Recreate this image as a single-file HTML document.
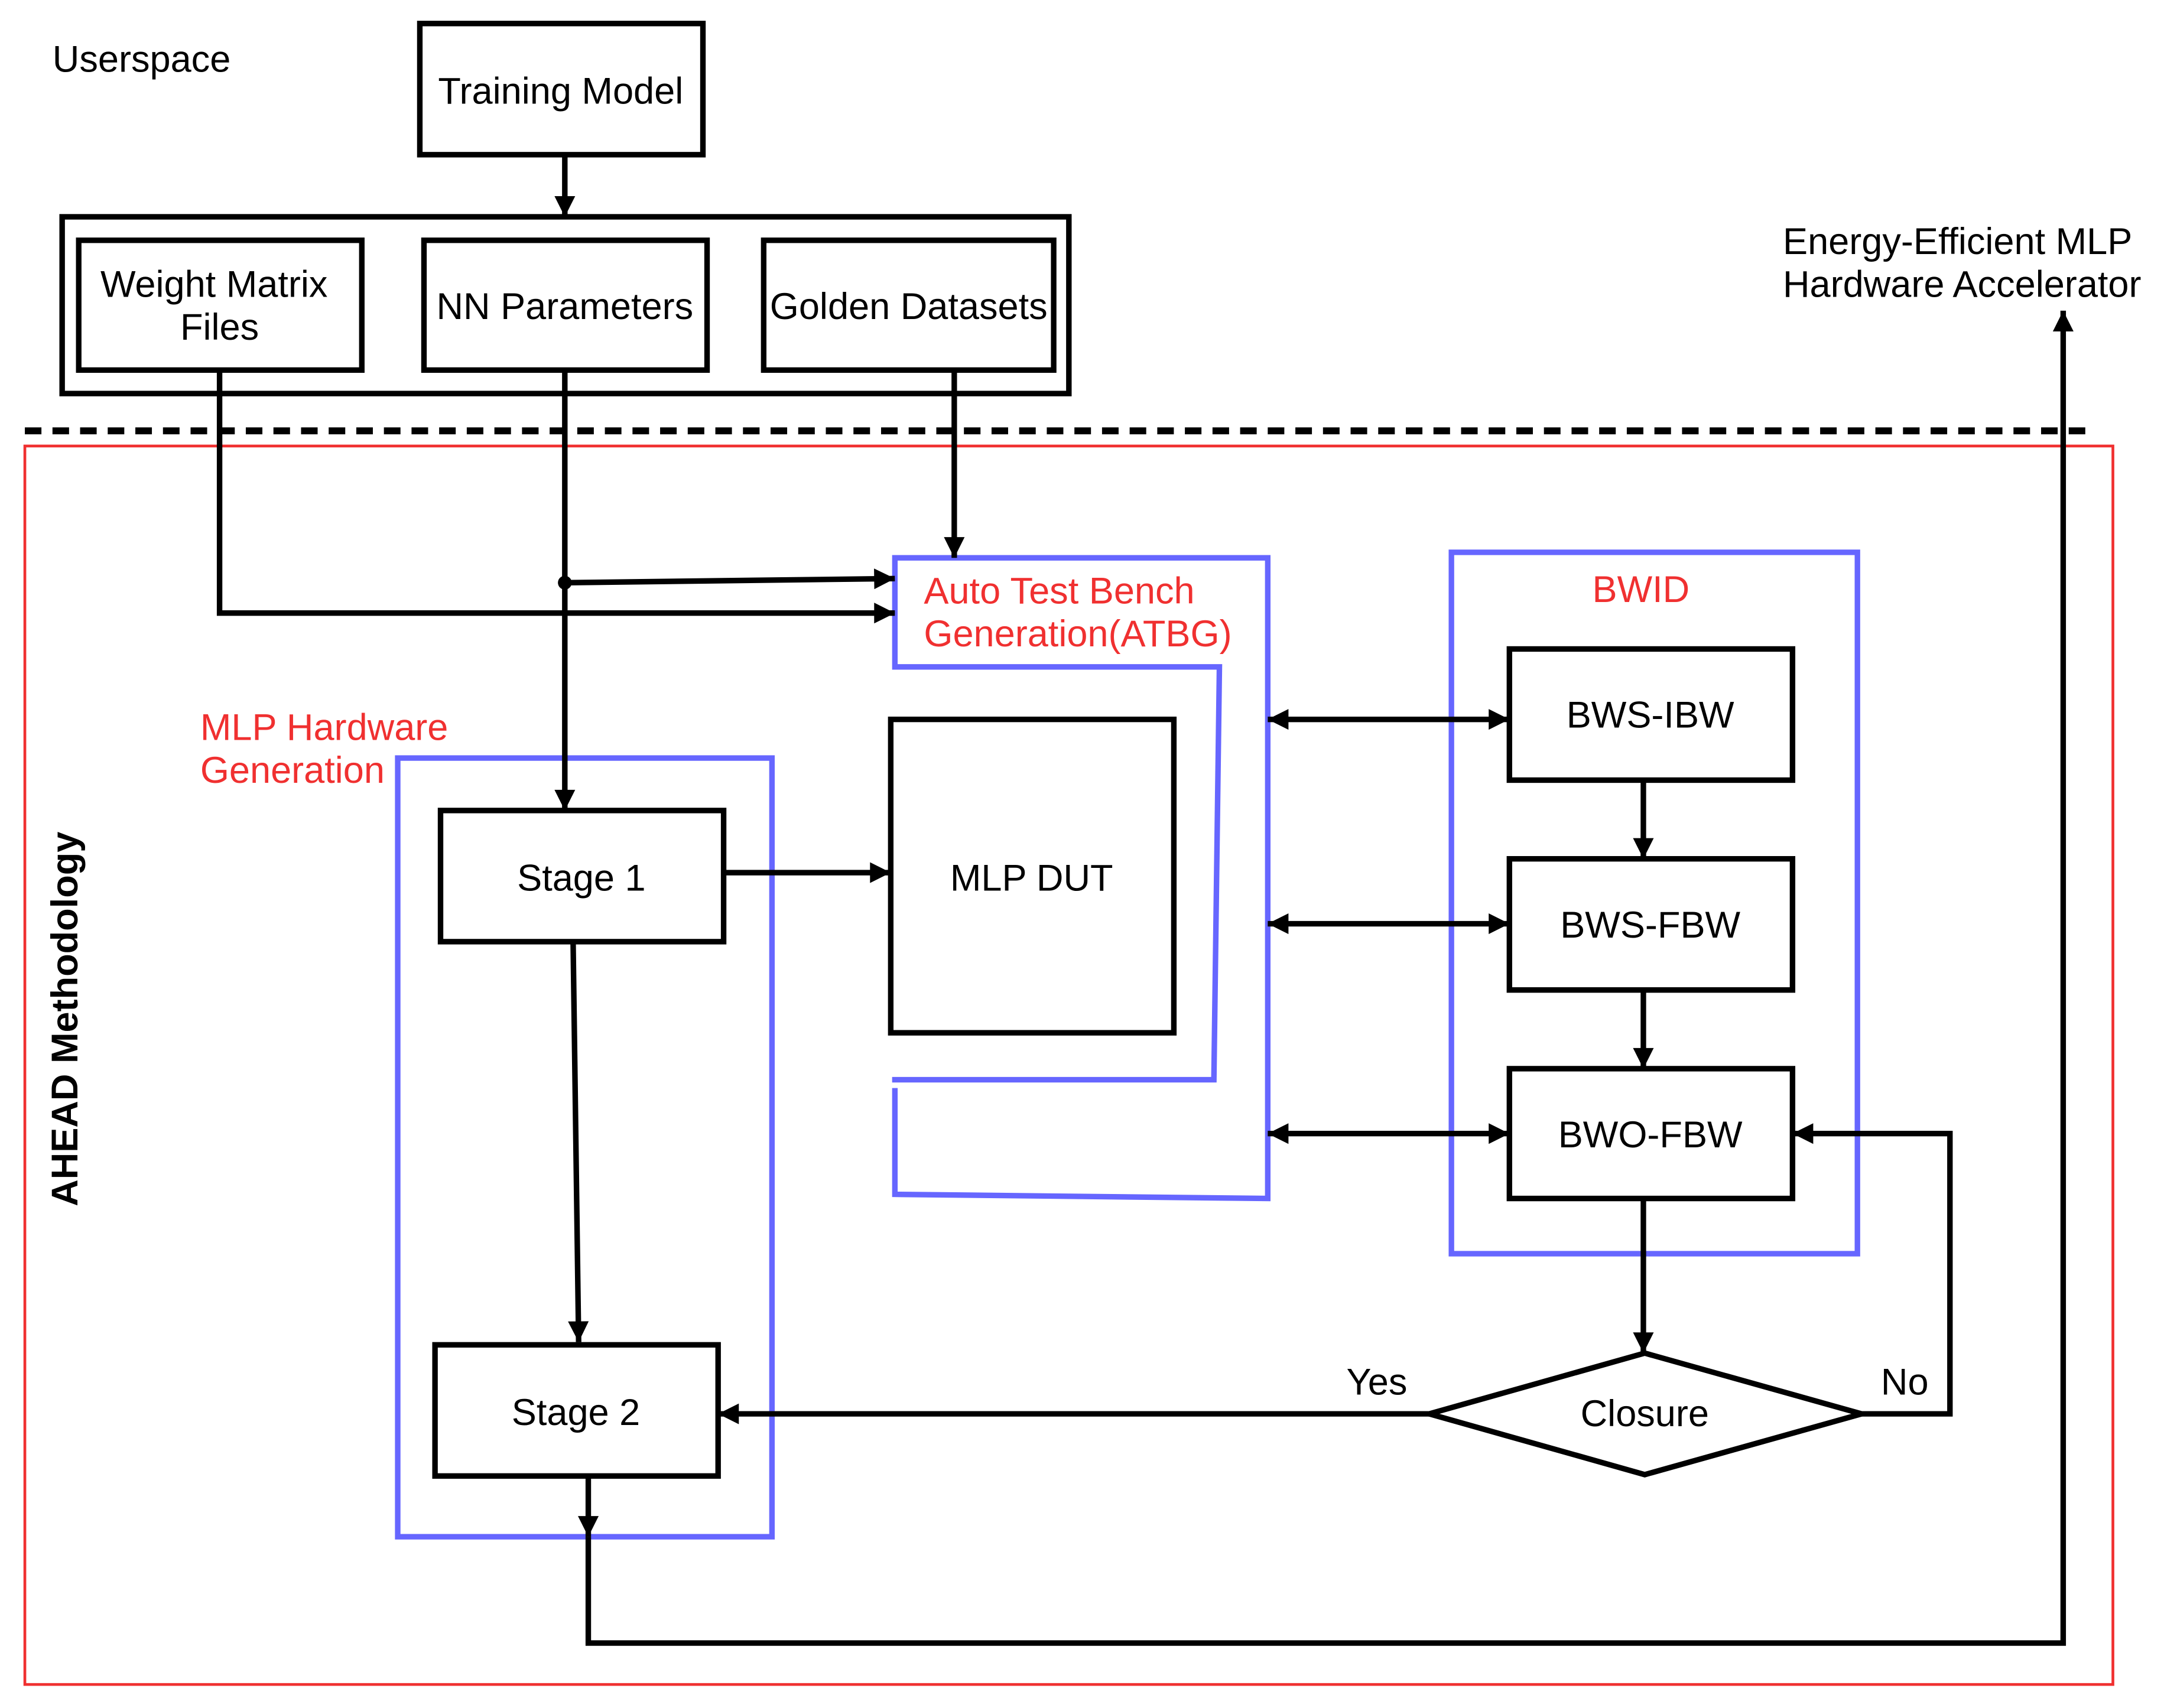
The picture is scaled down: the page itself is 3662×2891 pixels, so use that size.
<!DOCTYPE html>
<html><head><meta charset="utf-8"><style>
html,body{margin:0;padding:0;background:#fff;}
svg{display:block;}
text{font-family:"Liberation Sans",Arial,sans-serif;font-size:27px;fill:#000;}
.r{fill:#f03030;}
</style></head><body>
<svg width="3662" height="2891" viewBox="0 0 1567 1237" xmlns="http://www.w3.org/2000/svg">
<defs>
<marker id="ah" viewBox="0 0 10 10" refX="10" refY="5" markerWidth="18" markerHeight="15" orient="auto-start-reverse" markerUnits="userSpaceOnUse"><path d="M0,0 L10,5 L0,10 z" fill="#000"/></marker>
</defs>
<rect width="1567" height="1237" fill="#fff"/>
<g fill="none" stroke="#000" stroke-width="4">
<rect x="304" y="17" width="205" height="95"/>
<rect x="45" y="157" width="729" height="128"/>
<rect x="57" y="174" width="205" height="94"/>
<rect x="307" y="174" width="205" height="94"/>
<rect x="553" y="174" width="210" height="94"/>
<rect x="319" y="587" width="205" height="95"/>
<rect x="315" y="974" width="205" height="95"/>
<rect x="645" y="521" width="205" height="227"/>
<rect x="1093" y="470" width="205" height="95"/>
<rect x="1093" y="622" width="205" height="95"/>
<rect x="1093" y="774" width="205" height="94"/>
<polygon points="1035,1024 1191,980 1348,1024 1191,1068"/>
</g>
<line x1="18" y1="312" x2="1512" y2="312" stroke="#000" stroke-width="5" stroke-dasharray="12,8"/>
<rect x="18" y="323" width="1512" height="897" fill="none" stroke="#f03030" stroke-width="2"/>
<g fill="none" stroke="#6666ff" stroke-width="4">
<rect x="288" y="549" width="271" height="564"/>
<rect x="1051" y="400" width="294" height="508"/>
<path d="M648,788 L648,865 L918,868 L918,404 L648,404 L648,483 L883,483 L879,782 L646,782"/>
</g>
<g fill="none" stroke="#000" stroke-width="4" marker-end="url(#ah)">
<line x1="409" y1="112" x2="409" y2="157"/>
<polyline points="159,268 159,444 648,444"/>
<line x1="409" y1="268" x2="409" y2="587"/>
<line x1="409" y1="422" x2="648" y2="419"/>
<line x1="691" y1="268" x2="691" y2="404"/>
<line x1="524" y1="632" x2="645" y2="632"/>
<line x1="415" y1="682" x2="419" y2="972"/>
<line x1="1190" y1="565" x2="1190" y2="622"/>
<line x1="1190" y1="717" x2="1190" y2="774"/>
<line x1="1190" y1="868" x2="1190" y2="980"/>
<line x1="1035" y1="1024" x2="520" y2="1024"/>
<polyline points="1348,1024 1412,1024 1412,821 1298,821"/>
<line x1="426" y1="1069" x2="426" y2="1113"/>
<polyline points="426,1113 426,1190 1494,1190 1494,225"/>
<line x1="918" y1="521" x2="1093" y2="521" marker-start="url(#ah)"/>
<line x1="918" y1="669" x2="1093" y2="669" marker-start="url(#ah)"/>
<line x1="918" y1="821" x2="1093" y2="821" marker-start="url(#ah)"/>
</g>
<circle cx="409" cy="422" r="5" fill="#000"/>
<text x="38" y="52">Userspace</text>
<text x="406" y="75" text-anchor="middle">Training Model</text>
<text x="155" y="215" text-anchor="middle">Weight Matrix</text>
<text x="159" y="246" text-anchor="middle">Files</text>
<text x="409" y="231" text-anchor="middle">NN Parameters</text>
<text x="658" y="231" text-anchor="middle">Golden Datasets</text>
<text x="1291" y="184">Energy-Efficient MLP</text>
<text x="1291" y="215">Hardware Accelerator</text>
<text class="r" x="669" y="437">Auto Test Bench</text>
<text class="r" x="669" y="468">Generation(ATBG)</text>
<text class="r" x="1153" y="436">BWID</text>
<text class="r" x="145" y="536">MLP Hardware</text>
<text class="r" x="145" y="567">Generation</text>
<text x="421" y="645" text-anchor="middle">Stage 1</text>
<text x="417" y="1032" text-anchor="middle">Stage 2</text>
<text x="747" y="645" text-anchor="middle">MLP DUT</text>
<text x="1195" y="527" text-anchor="middle">BWS-IBW</text>
<text x="1195" y="679" text-anchor="middle">BWS-FBW</text>
<text x="1195" y="831" text-anchor="middle">BWO-FBW</text>
<text x="1191" y="1033" text-anchor="middle">Closure</text>
<text x="975" y="1010">Yes</text>
<text x="1362" y="1010">No</text>
<text x="56" y="738" text-anchor="middle" font-weight="bold" transform="rotate(-90 56 738)">AHEAD Methodology</text>
</svg>
</body></html>
